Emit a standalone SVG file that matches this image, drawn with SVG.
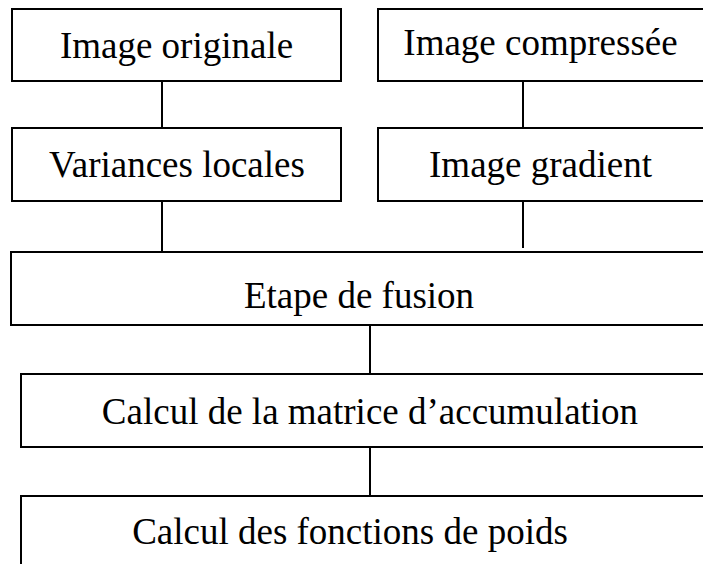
<svg xmlns="http://www.w3.org/2000/svg" width="703" height="564" viewBox="0 0 703 564">
<style>
.box{fill:#fff;stroke:#000;stroke-width:2}
.lbl{font-family:"Liberation Serif","Times New Roman",serif;font-size:37px;fill:#000;text-anchor:middle}
.con{stroke:#000;stroke-width:2;fill:none}
</style>
<rect width="703" height="564" fill="#fff"/>
<g id="connectors">
<line class="con" x1="162" y1="81" x2="162" y2="128"/>
<line class="con" x1="162" y1="201" x2="162" y2="252"/>
<line class="con" x1="523" y1="81" x2="523" y2="128"/>
<line class="con" x1="523" y1="201" x2="523" y2="248"/>
<line class="con" x1="370" y1="325" x2="370" y2="374"/>
<line class="con" x1="370" y1="447" x2="370" y2="496"/>
</g>
<g id="n1"><rect class="box" x="12" y="9" width="329" height="72"/><text class="lbl" x="176.5" y="58">Image originale</text></g>
<g id="n2"><rect class="box" x="378" y="9" width="340" height="72"/><text class="lbl" x="540.5" y="55">Image compressée</text></g>
<g id="n3"><rect class="box" x="12" y="128" width="329" height="73"/><text class="lbl" x="177" y="177">Variances locales</text></g>
<g id="n4"><rect class="box" x="378" y="128" width="340" height="73"/><text class="lbl" x="540.5" y="177">Image gradient</text></g>
<g id="n5"><rect class="box" x="11" y="252" width="710" height="73"/><text class="lbl" x="359" y="308">Etape de fusion</text></g>
<g id="n6"><rect class="box" x="21" y="374" width="700" height="73"/><text class="lbl" x="370" y="424">Calcul de la matrice d’accumulation</text></g>
<g id="n7"><rect class="box" x="21" y="496" width="700" height="80"/><text class="lbl" x="350" y="544">Calcul des fonctions de poids</text></g>
</svg>
